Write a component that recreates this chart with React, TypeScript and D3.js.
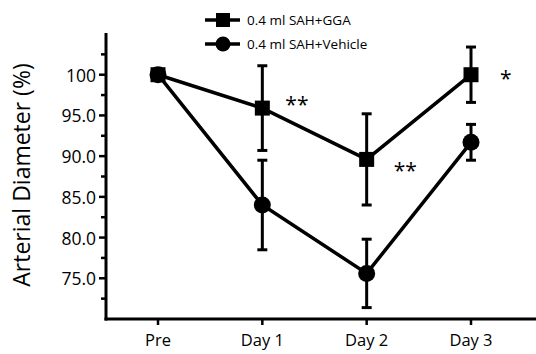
import React from 'react';
import * as d3 from 'd3';

const categories = ['Pre', 'Day 1', 'Day 2', 'Day 3'];
const ggaMean = [100, 95.9, 89.6, 100];
const ggaErr = [0, 5.2, 5.6, 3.4];
const vehMean = [100, 84.0, 75.6, 91.7];
const vehErr = [0, 5.5, 4.2, 2.2];
const yMajor = [75, 80, 85, 90, 95, 100];
const yMinor = [72.5, 77.5, 82.5, 87.5, 92.5, 97.5, 102.5];
const stars = [
  { cat: 'Day 1', value: 95.9, text: '**', dx: 23, dy: -7 },
  { cat: 'Day 2', value: 89.6, text: '**', dx: 27, dy: 8 },
  { cat: 'Day 3', value: 100, text: '*', dx: 29, dy: 0 },
];

const fmt = (v: number) => (v === 100 ? '100' : v.toFixed(1));

export default function App() {
  const width = 536;
  const height = 354;
  const left = 106;
  const bottom = 319;

  const x = d3.scalePoint<string>().domain(categories).range([158, 471]);
  const y = d3.scaleLinear().domain([70, 105]).range([bottom, 34]);

  const line = d3.line<number>()
    .x((_, i) => x(categories[i]) as number)
    .y(d => y(d));

  const font = "'Open Sans', 'DejaVu Sans', sans-serif";

  const errorBars = (means: number[], errs: number[], key: string) =>
    means.map((m, i) => {
      if (!errs[i]) return null;
      const cx = x(categories[i]) as number;
      return (
        <g key={`${key}-${i}`} stroke="#000" strokeWidth={3}>
          <line x1={cx} x2={cx} y1={y(m + errs[i])} y2={y(m - errs[i])} />
          <line x1={cx - 5} x2={cx + 5} y1={y(m + errs[i])} y2={y(m + errs[i])} />
          <line x1={cx - 5} x2={cx + 5} y1={y(m - errs[i])} y2={y(m - errs[i])} />
        </g>
      );
    });

  return (
    <svg width={width} height={height} style={{ position: 'absolute', left: 0, top: 0, background: '#fff' }}>
      {/* legend */}
      <g fontFamily={font} fontSize={13.5} fill="#000">
        <line x1={205} x2={240} y1={20} y2={20} stroke="#000" strokeWidth={3.5} />
        <rect x={216} y={13} width={14} height={14} fill="#000" />
        <text x={247} y={20} dominantBaseline="central">0.4 ml SAH+GGA</text>
        <line x1={205} x2={240} y1={44} y2={44} stroke="#000" strokeWidth={3.5} />
        <circle cx={223} cy={44} r={7.5} fill="#000" />
        <text x={247} y={44} dominantBaseline="central">0.4 ml SAH+Vehicle</text>
      </g>

      {/* axes */}
      <line x1={left} x2={left} y1={33} y2={bottom + 1.5} stroke="#000" strokeWidth={3} />
      <line x1={left - 1.5} x2={536} y1={bottom} y2={bottom} stroke="#000" strokeWidth={3} />
      {yMajor.map(t => (
        <g key={`ma-${t}`}>
          <line x1={left - 7} x2={left} y1={y(t)} y2={y(t)} stroke="#000" strokeWidth={2.5} />
          <text x={left - 10} y={y(t)} textAnchor="end" dominantBaseline="central"
            fontFamily={font} fontSize={17.5} fill="#000">{fmt(t)}</text>
        </g>
      ))}
      {yMinor.map(t => (
        <line key={`mi-${t}`} x1={left - 5} x2={left} y1={y(t)} y2={y(t)} stroke="#000" strokeWidth={2.5} />
      ))}
      {categories.map(c => (
        <g key={`x-${c}`}>
          <line x1={x(c)} x2={x(c)} y1={bottom} y2={bottom + 6} stroke="#000" strokeWidth={2.5} />
          <text x={x(c)} y={bottom + 27} textAnchor="middle" fontFamily={font} fontSize={16.5} fill="#000">{c}</text>
        </g>
      ))}
      <text transform={`translate(21,175) rotate(-90)`} textAnchor="middle"
        dominantBaseline="central" fontFamily={font} fontSize={23} fill="#000">Arterial Diameter (%)</text>

      {/* error bars */}
      {errorBars(ggaMean, ggaErr, 'g')}
      {errorBars(vehMean, vehErr, 'v')}

      {/* series */}
      <path d={line(ggaMean) ?? ''} fill="none" stroke="#000" strokeWidth={3.5} />
      <path d={line(vehMean) ?? ''} fill="none" stroke="#000" strokeWidth={3.5} />
      {vehMean.map((v, i) => (
        <circle key={`vc-${i}`} cx={x(categories[i])} cy={y(v)} r={8.5} fill="#000" />
      ))}
      {ggaMean.map((v, i) => (
        <rect key={`gs-${i}`} x={(x(categories[i]) as number) - 7.5} y={y(v) - 7.5} width={15} height={15} fill="#000" />
      ))}

      {/* significance */}
      {stars.map(s => (
        <text key={`s-${s.cat}`} x={(x(s.cat) as number) + s.dx} y={y(s.value) + s.dy + 11}
          fontFamily={font} fontSize={21} fill="#000">{s.text}</text>
      ))}
    </svg>
  );
}
